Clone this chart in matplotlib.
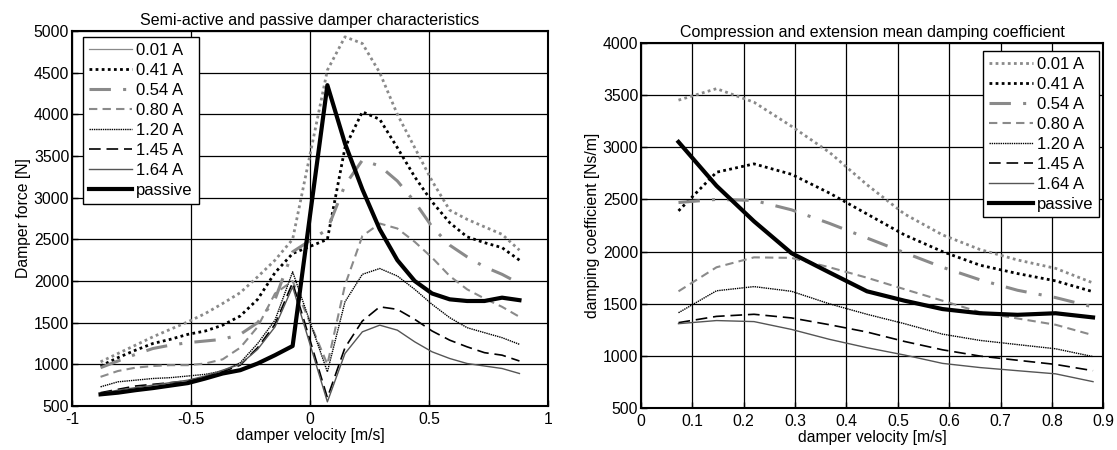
import matplotlib
matplotlib.use("Agg")
import matplotlib.pyplot as plt
from matplotlib.lines import Line2D

plt.rcParams['font.family'] = ['Liberation Sans', 'DejaVu Sans']
plt.rcParams['font.size'] = 11.3

# ---------------- data ----------------
labels = ['0.01 A', '0.41 A', '0.54 A', '0.80 A', '1.20 A', '1.45 A', '1.64 A', 'passive']

vel_left = [-0.88, -0.807, -0.733, -0.66, -0.587, -0.513, -0.44, -0.367, -0.293, -0.22, -0.147, -0.073,
            0.073, 0.147, 0.22, 0.293, 0.367, 0.44, 0.513, 0.587, 0.66, 0.733, 0.807, 0.88]

force_001 = [1030, 1130, 1230, 1330, 1420, 1510, 1610, 1730, 1860, 2050, 2250, 2500,
             4530, 4930, 4850, 4500, 4000, 3600, 3200, 2850, 2740, 2650, 2560, 2370]
force_041 = [980, 1080, 1170, 1250, 1300, 1360, 1400, 1470, 1580, 1780, 2100, 2330,
             2500, 3600, 4030, 3940, 3600, 3250, 2950, 2700, 2530, 2460, 2400, 2250]
force_054 = [960, 1040, 1120, 1190, 1230, 1260, 1280, 1300, 1360, 1500, 1780, 2350,
             2620, 3150, 3450, 3380, 3200, 2950, 2650, 2430, 2290, 2170, 2080, 1970]
force_080 = [850, 920, 960, 980, 990, 990, 1010, 1060, 1200, 1450, 1850, 2000,
             1000, 1950, 2540, 2690, 2630, 2470, 2280, 2060, 1900, 1790, 1690, 1570]
force_120 = [730, 790, 810, 830, 840, 860, 880, 920, 1020, 1250, 1530, 2110,
             910, 1750, 2080, 2150, 2060, 1900, 1720, 1560, 1440, 1380, 1320, 1240]
force_145 = [660, 700, 740, 760, 780, 800, 850, 910, 990, 1200, 1480, 1980,
             600, 1200, 1520, 1690, 1660, 1540, 1400, 1290, 1210, 1140, 1110, 1040]
force_164 = [650, 690, 720, 750, 780, 810, 860, 930, 1000, 1180, 1450, 1930,
             550, 1130, 1390, 1470, 1410, 1270, 1150, 1070, 1010, 980, 950, 890]
force_pas = [640, 660, 690, 715, 745, 775, 830, 890, 930, 1010, 1110, 1220,
             4350, 3650, 3100, 2620, 2250, 2000, 1850, 1780, 1760, 1760, 1800, 1770]

vel_right = [0.073, 0.147, 0.22, 0.293, 0.367, 0.44, 0.513, 0.587, 0.66, 0.733, 0.807, 0.88]

coef_001 = [3450, 3560, 3430, 3200, 2950, 2640, 2360, 2160, 2020, 1920, 1840, 1700]
coef_041 = [2390, 2760, 2840, 2740, 2560, 2360, 2160, 2000, 1870, 1790, 1720, 1616]
coef_054 = [2470, 2500, 2490, 2400, 2270, 2130, 1990, 1850, 1730, 1630, 1560, 1470]
coef_080 = [1620, 1850, 1945, 1940, 1850, 1750, 1640, 1530, 1420, 1360, 1300, 1200]
coef_120 = [1415, 1625, 1665, 1620, 1500, 1400, 1310, 1210, 1150, 1110, 1070, 995]
coef_145 = [1320, 1380, 1400, 1365, 1300, 1230, 1140, 1060, 1000, 960, 920, 860]
coef_164 = [1310, 1340, 1330, 1255, 1160, 1080, 1010, 930, 890, 860, 830, 755]
coef_pas = [3050, 2630, 2290, 1985, 1800, 1620, 1530, 1450, 1410, 1395, 1410, 1370]

left_ticks_x = [-1, -0.5, 0, 0.5, 1]
left_ticks_y = list(range(500, 5001, 500))
right_ticks_x = [0, 0.1, 0.2, 0.3, 0.4, 0.5, 0.6, 0.7, 0.8, 0.9]
right_ticks_y = list(range(500, 4001, 500))

# ---------------- styles ----------------
GREY = '#8a8a8a'
styles = [
    dict(color=GREY, lw=2.0, linestyle=(0, (1, 1.2))),
    dict(color='black', lw=2.0, linestyle=(0, (1, 1.2))),
    dict(color=GREY, lw=2.2, linestyle=(0, (7, 4, 1, 4))),
    dict(color=GREY, lw=1.5, linestyle=(0, (4, 2.5))),
    dict(color='black', lw=1.0, linestyle=(0, (1, 0.6))),
    dict(color='black', lw=1.2, linestyle=(0, (7, 3.5))),
    dict(color='#555555', lw=1.0, linestyle='-'),
    dict(color='black', lw=3.0, linestyle='-'),
]

fig = plt.figure(figsize=(11.17, 4.5), dpi=100)
ax1 = fig.add_axes([72 / 1117, 1 - 406 / 450, 476 / 1117, 375 / 450])
ax2 = fig.add_axes([641 / 1117, 1 - 408.3 / 450, 462.3 / 1117, 365.6 / 450])

left_series = [force_001, force_041, force_054, force_080, force_120, force_145, force_164, force_pas]
right_series = [coef_001, coef_041, coef_054, coef_080, coef_120, coef_145, coef_164, coef_pas]

handles_left = []
for lab, ys, st in zip(labels, left_series, styles):
    h, = ax1.plot(vel_left, ys, label=lab, **st)
    handles_left.append(h)
# the left legend shows the first entry as a thin grey solid line
handles_left[0] = Line2D([], [], color=GREY, lw=0.9, linestyle='-')

for lab, ys, st in zip(labels, right_series, styles):
    ax2.plot(vel_right, ys, label=lab, **st)

for ax in (ax1, ax2):
    ax.grid(True, color='black', lw=0.9, linestyle='-')
    ax.set_axisbelow(True)
    for sp in ax.spines.values():
        sp.set_linewidth(1.5)
    ax.tick_params(direction='in', length=4, width=1, labelsize=11.3, pad=2)
ax1.tick_params(axis='x', pad=4)
ax2.tick_params(axis='x', pad=4)

ax1.set_xlim(-1, 1)
ax1.set_ylim(500, 5000)
ax1.set_xticks(left_ticks_x)
ax1.set_xticklabels(['-1', '-0.5', '0', '0.5', '1'])
ax1.set_yticks(left_ticks_y)
ax1.set_xlabel('damper velocity [m/s]', labelpad=1)
ax1.set_ylabel('Damper force [N]', labelpad=2)
ax1.set_title('Semi-active and passive damper characteristics', fontsize=11.5, pad=4)

ax2.set_xlim(0, 0.9)
ax2.set_ylim(500, 4000)
ax2.set_xticks(right_ticks_x)
ax2.set_xticklabels(['0', '0.1', '0.2', '0.3', '0.4', '0.5', '0.6', '0.7', '0.8', '0.9'])
ax2.set_yticks(right_ticks_y)
ax2.set_xlabel('damper velocity [m/s]', labelpad=1)
ax2.set_ylabel('damping coefficient [Ns/m]', labelpad=2)
ax2.set_title('Compression and extension mean damping coefficient', fontsize=11.5, pad=4)

leg_kw = dict(fancybox=False, framealpha=1, edgecolor='black', fontsize=12,
              handlelength=2.6, handletextpad=0.25, labelspacing=0.3,
              borderaxespad=0, borderpad=0.35)
lg1 = ax1.legend(handles_left, labels, loc='upper left',
                 bbox_to_anchor=(11 / 476, 1 - 6 / 375), **leg_kw)
lg2 = ax2.legend(loc='upper right', bbox_to_anchor=(1 - 4.3 / 462.3, 1 - 8 / 365.6), **leg_kw)
for lg in (lg1, lg2):
    lg.get_frame().set_linewidth(1.0)

fig.savefig('out.png', dpi=100)
